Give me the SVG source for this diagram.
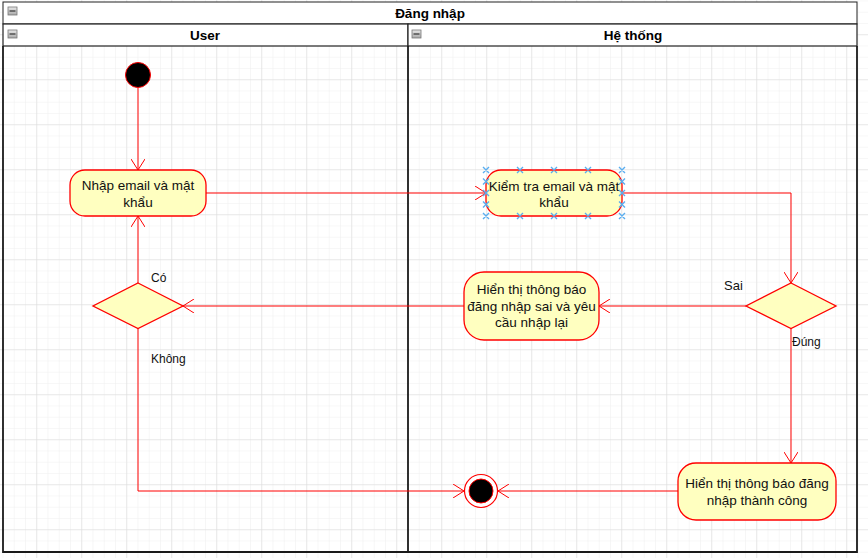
<svg xmlns="http://www.w3.org/2000/svg" width="868" height="558" viewBox="0 0 868 558">
<defs>
<pattern id="minor" x="36.25" y="34.25" width="11.25" height="11.25" patternUnits="userSpaceOnUse">
<path d="M0 0H11.25M0 0V11.25" fill="none" stroke="#efefef" stroke-width="1"/>
</pattern>
<pattern id="major" x="36.25" y="34.25" width="45" height="45" patternUnits="userSpaceOnUse">
<path d="M0 0H45M0 0V45" fill="none" stroke="#dadada" stroke-width="1"/>
</pattern>
<marker id="arr" viewBox="0 0 12 14" refX="11" refY="7" markerWidth="12" markerHeight="14" markerUnits="userSpaceOnUse" orient="auto">
<path d="M0 0L11 7L0 14" fill="none" stroke="#ff0000" stroke-width="1"/>
</marker>
<linearGradient id="ig" x1="0" y1="0" x2="0" y2="1">
<stop offset="0" stop-color="#e8e8e8"/><stop offset="1" stop-color="#a8a8a8"/>
</linearGradient>
</defs>
<style>
.node{fill:#ffffc0;stroke:#ff0000;stroke-width:1.3}
.lbl{font-family:"Liberation Sans",Arial,sans-serif;font-size:13.5px;fill:#111;text-anchor:middle}
.elbl{font-family:"Liberation Sans",Arial,sans-serif;font-size:12px;fill:#111}
.hdr{font-family:"Liberation Sans",Arial,sans-serif;font-size:13.5px;font-weight:bold;fill:#000;text-anchor:middle}
.edge{fill:none;stroke:#ff0000;stroke-width:1}
.sel{stroke:#5aaef0;stroke-width:1.4;fill:none}
.icon{fill:url(#ig);stroke:#777;stroke-width:0.8}
</style>
<rect width="868" height="558" fill="#ffffff"/>
<rect width="868" height="558" fill="url(#minor)"/>
<rect width="868" height="558" fill="url(#major)"/>

<g id="pool">
<rect x="3" y="2" width="854" height="22" fill="#ffffff" stroke="#222" stroke-width="1"/>
<text class="hdr" x="430" y="18">Đăng nhập</text>
<rect class="icon" x="8" y="7" width="9" height="8"/><line x1="9.5" y1="11" x2="15.5" y2="11" stroke="#333" stroke-width="1.2"/>
</g>
<g id="lane-user">
<rect x="3" y="24" width="405" height="22" fill="#ffffff" stroke="#222" stroke-width="1.2"/>
<text class="hdr" x="205" y="40">User</text>
<rect class="icon" x="8" y="30" width="9" height="8"/><line x1="9.5" y1="34" x2="15.5" y2="34" stroke="#333" stroke-width="1.2"/>
</g>
<g id="lane-system">
<rect x="408" y="24" width="449" height="22" fill="#ffffff" stroke="#222" stroke-width="1.2"/>
<text class="hdr" x="633" y="40">Hệ thống</text>
<rect class="icon" x="412" y="30" width="9" height="8"/><line x1="413.5" y1="34" x2="419.5" y2="34" stroke="#333" stroke-width="1.2"/>
</g>
<g id="pool-border" fill="none" stroke="#1a1a1a">
<path d="M3 46V552H857V46" stroke-width="1.8"/>
<line x1="408" y1="46" x2="408" y2="552" stroke-width="1.8"/>
</g>

<g id="connectors">
<path class="edge" d="M138 88V170" marker-end="url(#arr)"/>
<path class="edge" d="M206 193H486" marker-end="url(#arr)"/>
<path class="edge" d="M622 193H791V283" marker-end="url(#arr)"/>
<path class="edge" d="M746 306H599" marker-end="url(#arr)"/>
<path class="edge" d="M464 306H183" marker-end="url(#arr)"/>
<path class="edge" d="M138 283V216" marker-end="url(#arr)"/>
<path class="edge" d="M138 328V491H464" marker-end="url(#arr)"/>
<path class="edge" d="M791 328V463" marker-end="url(#arr)"/>
<path class="edge" d="M678 491H498" marker-end="url(#arr)"/>
<text class="elbl" x="151" y="282">Có</text>
<text class="elbl" x="151" y="363">Không</text>
<text class="elbl" x="724" y="290" style="font-size:13px">Sai</text>
<text class="elbl" x="792" y="346">Đúng</text>
</g>

<g id="start">
<circle cx="138" cy="75" r="12.5" fill="#000" stroke="#ff0000" stroke-width="1"/>
</g>
<g id="nhap">
<rect class="node" x="70" y="170" width="136" height="46" rx="15"/>
<text class="lbl" x="138" y="190">Nhập email và mật</text>
<text class="lbl" x="138" y="206.5">khẩu</text>
</g>
<g id="kiemtra">
<rect class="node" x="486" y="170" width="136" height="46" rx="15"/>
<text class="lbl" x="554" y="191">Kiểm tra email và mật</text>
<text class="lbl" x="554" y="206.5">khẩu</text>
<g class="sel">
<path d="M483 167l6 6m0-6l-6 6M517 167l6 6m0-6l-6 6M551 167l6 6m0-6l-6 6M585 167l6 6m0-6l-6 6M619 167l6 6m0-6l-6 6"/>
<path d="M483 213l6 6m0-6l-6 6M517 213l6 6m0-6l-6 6M551 213l6 6m0-6l-6 6M585 213l6 6m0-6l-6 6M619 213l6 6m0-6l-6 6"/>
<path d="M483 178.5l6 6m0-6l-6 6M483 190l6 6m0-6l-6 6M483 201.5l6 6m0-6l-6 6"/>
<path d="M619 178.5l6 6m0-6l-6 6M619 190l6 6m0-6l-6 6M619 201.5l6 6m0-6l-6 6"/>
</g>
</g>
<g id="decision-check">
<polygon class="node" points="791,283 836,306 791,328.5 746,306"/>
</g>
<g id="hienthi-sai">
<rect class="node" x="464" y="272" width="135" height="68" rx="20"/>
<text class="lbl" x="531.5" y="294">Hiển thị thông báo</text>
<text class="lbl" x="531.5" y="310.5">đăng nhập sai và yêu</text>
<text class="lbl" x="531.5" y="327">cầu nhập lại</text>
</g>
<g id="decision-retry">
<polygon class="node" points="138,283 183,306 138,328.5 93,306"/>
</g>
<g id="hienthi-thanhcong">
<rect class="node" x="678" y="463" width="158" height="57" rx="18"/>
<text class="lbl" x="757" y="488">Hiển thị thông báo đăng</text>
<text class="lbl" x="757" y="505">nhập thành công</text>
</g>
<g id="end">
<circle cx="481" cy="491" r="16.5" fill="#ffffff" stroke="#ff0000" stroke-width="1.2"/>
<circle cx="481" cy="491" r="12" fill="#000" stroke="#ff0000" stroke-width="1"/>
</g>
</svg>
